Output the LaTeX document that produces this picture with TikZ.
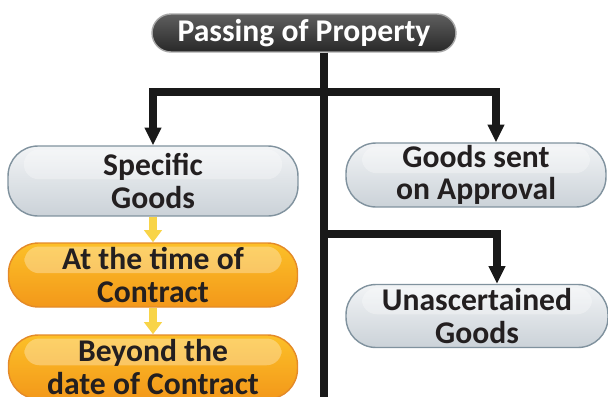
\documentclass[tikz,border=0pt]{standalone}
\usepackage{fontspec}
\setmainfont{Carlito}
\usetikzlibrary{positioning, arrows.meta}
\definecolor{titledark}{RGB}{40, 40, 40}
\definecolor{titletop}{RGB}{95, 95, 95}
\definecolor{greytop}{RGB}{242, 244, 246}
\definecolor{greybot}{RGB}{203, 210, 216}
\definecolor{greyline}{RGB}{128, 146, 158}
\definecolor{orangetop}{RGB}{252, 192, 40}
\definecolor{orangebot}{RGB}{243, 152, 26}
\definecolor{orangeline}{RGB}{228, 138, 40}
\definecolor{flowyellow}{RGB}{248, 212, 72}
\definecolor{textdark}{RGB}{35, 31, 32}
\tikzset{
    gloss/.style={path picture={
        \fill[white, opacity=0.3, rounded corners=#1]
            ([xshift=9pt, yshift=-2pt]path picture bounding box.north west)
            rectangle ([xshift=-9pt, yshift=1pt]path picture bounding box.east);}},
    titlebox/.style={draw=gray!70, line width=0.8pt, rounded corners=0.38cm,
                top color=titletop, bottom color=titledark,
                minimum width=6.08cm, minimum height=0.76cm, inner sep=1pt,
                text=white, font=\fontsize{18}{19}\selectfont\bfseries},
    greybox/.style={draw=greyline, line width=0.8pt, rounded corners=0.6cm,
                top color=greytop, bottom color=greybot, gloss=0.3cm,
                minimum width=#1, minimum height=1.3cm, inner sep=1pt,
                text width=4.9cm, align=flush center, text=textdark,
                font=\fontsize{18}{18.5}\selectfont\bfseries},
    orangebox/.style={draw=orangeline, line width=0.8pt, rounded corners=0.6cm,
                top color=orangetop, bottom color=orangebot, gloss=0.3cm,
                minimum width=5.78cm, minimum height=1.28cm, inner sep=1pt,
                text width=5.4cm, align=flush center, text=textdark,
                font=\fontsize{18}{18.5}\selectfont\bfseries},
    trunk/.style={line width=4.5pt, black!90, line join=miter},
    branch/.style={trunk, -{Triangle[width=9pt, length=10pt]}},
    steparr/.style={line width=4pt, flowyellow,
                -{Triangle[width=10pt, length=7pt]}},
}
\begin{document}
\begin{tikzpicture}[x=0.02cm, y=-0.02cm]
    \useasboundingbox (0,0) rectangle (608,396);

    \node[titlebox] (title) at (304,33) {Passing of Property};

    \node[greybox=5.8cm, minimum height=1.4cm] (sg) at (153,181) {Specific\\Goods};
    \node[orangebox] (tc) at (153,275) {At the time of\\Contract};
    \node[orangebox] (bd) at (153,367) {Beyond the\\date of Contract};

    \node[greybox=5.2cm, minimum height=1.28cm] (ga) at (476,175) {Goods sent\\on Approval};
    \node[greybox=5.24cm, minimum height=1.26cm] (ug) at (477,316) {Unascertained\\Goods};

    % main line and its branches
    \coordinate (j1) at (324,92);
    \coordinate (j2) at (324,234);
    \coordinate (ra) at (496,92);
    \coordinate (rb) at (497,234);
    \coordinate (trunkend) at (324,400);

    \draw[trunk] (title.south -| j1) -- (trunkend);
    \draw[branch] (j1) -| (sg.north);
    \draw[branch] (j1) -- (ra) -- (ra |- ga.north);
    \draw[branch] (j2) -- (rb) -- (rb |- ug.north);

    \draw[steparr] (sg.south) -- (tc.north);
    \draw[steparr] (tc.south) -- (bd.north);

\end{tikzpicture}
\end{document}
